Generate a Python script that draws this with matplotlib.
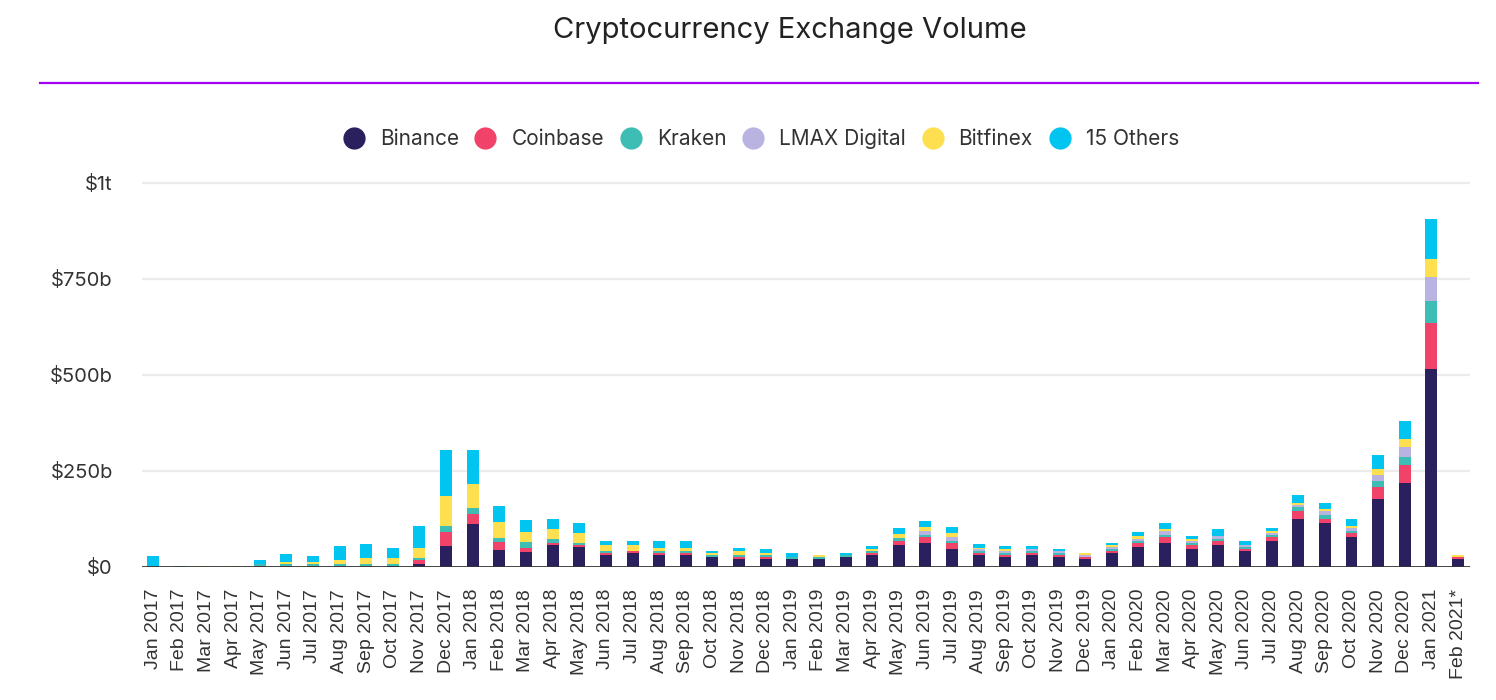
import numpy as np
import matplotlib
matplotlib.use('Agg')
import matplotlib.pyplot as plt
from matplotlib.lines import Line2D

# Monthly labels
months = ['Jan 2017', 'Feb 2017', 'Mar 2017', 'Apr 2017', 'May 2017', 'Jun 2017',
          'Jul 2017', 'Aug 2017', 'Sep 2017', 'Oct 2017', 'Nov 2017', 'Dec 2017',
          'Jan 2018', 'Feb 2018', 'Mar 2018', 'Apr 2018', 'May 2018', 'Jun 2018',
          'Jul 2018', 'Aug 2018', 'Sep 2018', 'Oct 2018', 'Nov 2018', 'Dec 2018',
          'Jan 2019', 'Feb 2019', 'Mar 2019', 'Apr 2019', 'May 2019', 'Jun 2019',
          'Jul 2019', 'Aug 2019', 'Sep 2019', 'Oct 2019', 'Nov 2019', 'Dec 2019',
          'Jan 2020', 'Feb 2020', 'Mar 2020', 'Apr 2020', 'May 2020', 'Jun 2020',
          'Jul 2020', 'Aug 2020', 'Sep 2020', 'Oct 2020', 'Nov 2020', 'Dec 2020',
          'Jan 2021', 'Feb 2021*']

# Volumes in billions of USD
binance = [0, 0, 0, 0, 0, 0, 0, 0, 0, 2.6, 8, 55,
           112, 44, 39, 56, 51, 30, 36, 30, 30, 25, 20, 20,
           20, 20, 25, 30, 56, 62, 46, 30, 25, 30, 25, 20,
           36, 51, 62, 46, 56, 41, 67, 124, 114, 77, 176, 218,
           515, 20]
coinbase = [0, 0, 0, 0, 1.5, 2.5, 2.5, 2.5, 2.5, 0, 10, 36,
            26, 21, 10, 5, 5, 5, 5, 5, 5, 0, 5, 5,
            0, 0, 0, 5, 10, 16, 16, 5, 5, 5, 5, 5,
            5, 10, 16, 10, 10, 5, 10, 21, 10, 10, 31, 47,
            120, 5]
kraken = [1, 2, 0, 0, 5, 5, 5, 5, 5, 5, 5, 16,
          16, 10, 16, 10, 5, 5, 0, 5, 5, 5, 5, 5,
          5, 5, 5, 5, 10, 5, 5, 5, 5, 5, 5, 0,
          5, 5, 5, 5, 5, 5, 5, 10, 10, 5, 16, 21,
          57, 0]
lmax = [0, 0, 0, 0, 0, 0, 0, 0, 0, 0, 0, 0,
        0, 0, 0, 0, 0, 0, 0, 0, 0, 0, 0, 0,
        0, 0, 0, 0, 0, 10, 10, 5, 5, 5, 5, 5,
        5, 5, 10, 5, 10, 5, 5, 5, 10, 10, 16, 26,
        62, 0]
bitfinex = [0, 0, 2, 2, 0, 5, 5, 10, 16, 16, 26, 78,
            62, 42, 26, 26, 26, 16, 16, 10, 10, 5, 10, 5,
            0, 5, 0, 5, 10, 10, 10, 5, 5, 0, 0, 5,
            5, 10, 5, 5, 0, 0, 5, 5, 5, 5, 16, 21,
            47, 5]
others = [28, 1, 0, 0, 10, 21, 16, 36, 36, 26, 57, 120,
          89, 42, 31, 26, 26, 10, 10, 16, 16, 5, 10, 10,
          10, 0, 5, 10, 16, 16, 16, 10, 10, 10, 5, 0,
          5, 10, 16, 10, 16, 10, 10, 21, 16, 16, 36, 47,
          104, 0]

series = [('Binance', binance, '#2a205e'),
          ('Coinbase', coinbase, '#f1436a'),
          ('Kraken', kraken, '#3ebdb5'),
          ('LMAX Digital', lmax, '#b9b3e2'),
          ('Bitfinex', bitfinex, '#fddf4f'),
          ('15 Others', others, '#02c4f1')]

fig = plt.figure(figsize=(14.96, 7), dpi=100)
ax = fig.add_axes([142 / 1496, 1 - 566.7 / 700, 1328 / 1496, 387.8 / 700])

x = np.arange(len(months))
bottom = np.zeros(len(months))
for name, vals, color in series:
    vals = np.array(vals, dtype=float)
    ax.bar(x, vals, bottom=bottom, width=0.45, color=color, linewidth=0, zorder=3)
    bottom += vals

ax.set_xlim(-0.42, len(months) - 0.55)
ax.set_ylim(0, 1010)

# gridlines + baseline
for v in [250, 500, 750, 1000]:
    ax.axhline(v, color='#ececec', lw=1.6, zorder=1)
ax.axhline(0, color='#333333', lw=2, zorder=4)

for s in ax.spines.values():
    s.set_visible(False)

ax.set_yticks([0, 250, 500, 750, 1000])
ax.set_yticklabels(['$0', '$250b', '$500b', '$750b', '$1t'],
                   fontsize=14.5, family='Inter', color='#333333')
ax.set_xticks(x)
ax.set_xticklabels(months, rotation=90, fontsize=14, family='Liberation Sans',
                   color='#333333')
ax.tick_params(axis='y', length=0, pad=21)
ax.tick_params(axis='x', length=0, pad=16)

# title and purple rule
fig.text(790 / 1496, 1 - 31 / 700, 'Cryptocurrency Exchange Volume', ha='center',
         va='center', fontsize=21, family='Inter', color='#222222')
fig.add_artist(Line2D([40 / 1496, 1478 / 1496], [1 - 82.7 / 700] * 2,
                      color='#a100f2', lw=1.6))

handles = [Line2D([], [], marker='o', linestyle='', markersize=16,
                  markerfacecolor=c, markeredgewidth=0) for _, _, c in series]
fig.legend(handles, [n for n, _, _ in series], loc='center',
           bbox_to_anchor=(761 / 1496, 1 - 139 / 700), ncol=6, frameon=False,
           prop={'family': 'Inter', 'size': 15}, labelcolor='#333333',
           handlelength=1.0, handletextpad=0.75, columnspacing=0.78)

fig.savefig('out.png', dpi=100)
